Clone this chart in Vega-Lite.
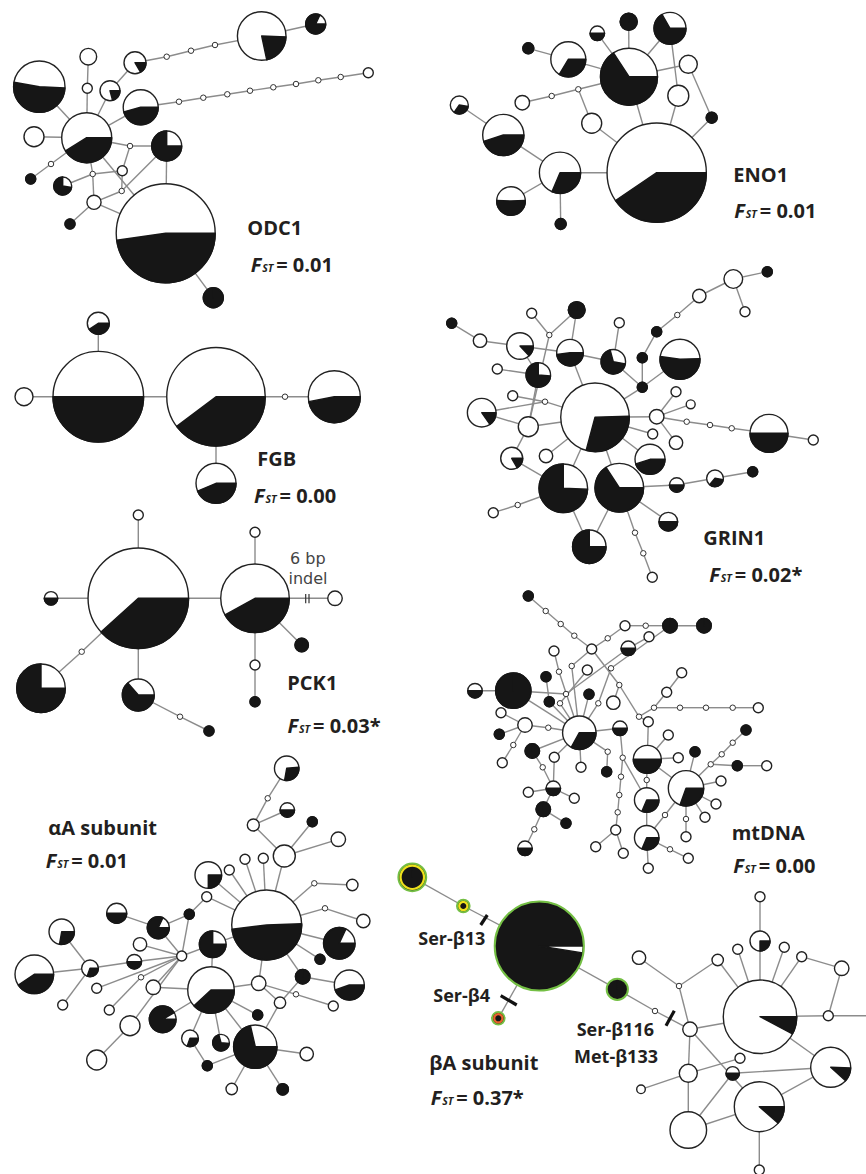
{
"$schema": "https://vega.github.io/schema/vega-lite/v6.json",
"width": 866, "height": 1174, "padding": 0, "autosize": {"type": "none"},
"background": "white",
"config": {"view": {"stroke": null}, "axis": {"disable": true}, "legend": {"disable": true}},
"datasets": {
"nodes": [
{"id":"oA","x":165.7,"y":233.3,"n":98,"a":90,"b":262},
{"id":"oB","x":86.7,"y":137.7,"n":25,"a":90,"b":238},
{"id":"oC","x":39.3,"y":86.7,"n":26.4,"a":93,"b":280},
{"id":"oD","x":88.3,"y":56.7,"n":2.8},
{"id":"oE","x":87.3,"y":88.3,"n":1},
{"id":"oF","x":110,"y":90.7,"n":4,"a":90,"b":165},
{"id":"oG","x":135,"y":62.7,"n":4.84,"a":90,"b":150},
{"id":"oG1","x":166.7,"y":56.7},{"id":"oG2","x":191,"y":50.7},{"id":"oG3","x":215,"y":45},
{"id":"oH","x":261.7,"y":36,"n":23.6,"a":92,"b":168},
{"id":"oI","x":315.7,"y":24,"n":4,"a":90,"b":385},
{"id":"oJ","x":140.7,"y":107.3,"n":12.25,"a":90,"b":255},
{"id":"oJ1","x":179,"y":101.7},{"id":"oJ2","x":203.3,"y":97.7},{"id":"oJ3","x":227.3,"y":94.3},{"id":"oJ4","x":250,"y":90.7},
{"id":"oJ5","x":273.3,"y":87.3},{"id":"oJ6","x":296,"y":84},{"id":"oJ7","x":318.3,"y":80.3},{"id":"oJ8","x":340.7,"y":77},
{"id":"oJe","x":368.3,"y":72.7,"n":1},
{"id":"oK","x":34,"y":136.7,"n":4},
{"id":"oL","x":166.7,"y":146,"n":9,"a":90,"b":360},
{"id":"oM","x":130,"y":146},
{"id":"oN","x":122.3,"y":170.7,"n":1},
{"id":"oO","x":92.7,"y":174},
{"id":"oP","x":62.7,"y":186,"n":3.24,"a":100,"b":360},
{"id":"oQ","x":51,"y":164},
{"id":"oR","x":30.7,"y":179,"n":1,"a":0,"b":360},
{"id":"oS","x":94,"y":202.3,"n":2},
{"id":"oT","x":121.7,"y":191},
{"id":"oU","x":70,"y":224,"n":1,"a":0,"b":360},
{"id":"oV","x":213.3,"y":297.7,"n":4,"a":0,"b":360},

{"id":"eA","x":656.7,"y":172.7,"n":98.6,"a":90,"b":236},
{"id":"e2","x":629,"y":76.7,"n":32.5,"a":90,"b":327},
{"id":"e3","x":670,"y":28.3,"n":10.2,"a":90,"b":330},
{"id":"e4","x":628.7,"y":21.7,"n":2.9,"a":0,"b":360},
{"id":"e5","x":597.3,"y":33.3,"n":2.1,"a":90,"b":270},
{"id":"e6","x":568.3,"y":59.3,"n":12.25,"a":90,"b":211},
{"id":"e7","x":528.3,"y":48.3,"n":1.2,"a":0,"b":360},
{"id":"e8","x":688.3,"y":64.3,"n":3.24},
{"id":"e9","x":678.3,"y":95.7,"n":4.4},
{"id":"e10","x":711.7,"y":117.7,"n":1.2,"a":0,"b":360},
{"id":"e11","x":591.7,"y":123.3,"n":4},
{"id":"e12","x":578.3,"y":89.3},{"id":"e13","x":551.7,"y":96},
{"id":"e14","x":522.3,"y":102.7,"n":2.1},
{"id":"e15","x":503.3,"y":135,"n":17,"a":90,"b":252},
{"id":"e16","x":459.3,"y":105,"n":3.24,"a":100,"b":215},
{"id":"e17","x":560,"y":172.7,"n":17,"a":90,"b":203},
{"id":"e18","x":511,"y":201,"n":8.2,"a":88,"b":272},
{"id":"e19","x":560.7,"y":224,"n":1.2,"a":0,"b":360},

{"id":"f1","x":98.3,"y":396.7,"n":82,"a":90,"b":270},
{"id":"f2","x":216,"y":396.7,"n":97,"a":90,"b":233},
{"id":"f3","x":334.3,"y":396.7,"n":27,"a":90,"b":259},
{"id":"f4","x":24,"y":396.7,"n":3.24},
{"id":"f5","x":98.3,"y":323.3,"n":4.84,"a":90,"b":236},
{"id":"f6","x":285,"y":396.7},
{"id":"f7","x":216,"y":483.3,"n":16,"a":90,"b":247},

{"id":"g1","x":595,"y":417.3,"n":47,"a":88,"b":195},
{"id":"g2","x":563.3,"y":488.3,"n":23.6,"a":92,"b":360},
{"id":"g3","x":619.3,"y":487.7,"n":23.6,"a":90,"b":327},
{"id":"g4","x":589.3,"y":546.7,"n":11.2,"a":90,"b":360},
{"id":"g5","x":650,"y":459.3,"n":9,"a":90,"b":252},
{"id":"g6","x":680,"y":359.3,"n":16,"a":88,"b":278},
{"id":"g7","x":769,"y":433.3,"n":14.4,"a":90,"b":270},
{"id":"g8","x":613.3,"y":361.7,"n":6,"a":100,"b":345},
{"id":"g9","x":570,"y":352.7,"n":7.1,"a":90,"b":262},
{"id":"g10","x":520,"y":346,"n":7.1,"a":90,"b":137},
{"id":"g11","x":538.3,"y":375,"n":6,"a":95,"b":360},
{"id":"g12","x":481.7,"y":412.7,"n":8.2,"a":90,"b":145},
{"id":"g13","x":511.7,"y":458.3,"n":4.84,"a":90,"b":150},
{"id":"g14","x":528.3,"y":426.7,"n":4},
{"id":"g15","x":576.7,"y":310,"n":2.8,"a":0,"b":360},
{"id":"g16","x":451.7,"y":323.3,"n":1,"a":0,"b":360},
{"id":"g17","x":480,"y":340.7,"n":1.8},
{"id":"g18","x":531.7,"y":313.3,"n":1},
{"id":"g19","x":549.3,"y":335},
{"id":"g20","x":497.3,"y":369,"n":1},
{"id":"g21","x":512.7,"y":395.7,"n":1},
{"id":"g22","x":545,"y":401.7},
{"id":"g23","x":546,"y":456,"n":1.8},
{"id":"g24","x":619.3,"y":322.7,"n":1},
{"id":"g25","x":642.3,"y":357.7,"n":1,"a":0,"b":360},
{"id":"g26","x":656.7,"y":331.7,"n":1,"a":0,"b":360},
{"id":"g27","x":677.3,"y":315},
{"id":"g28","x":699.3,"y":296,"n":1.8},
{"id":"g29","x":733.3,"y":279,"n":3.5},
{"id":"g30","x":767.3,"y":271.7,"n":1,"a":0,"b":360},
{"id":"g31","x":745,"y":311.7,"n":1},
{"id":"g32","x":642.3,"y":387.3,"n":1,"a":0,"b":360},
{"id":"g33","x":676,"y":391.7,"n":1},
{"id":"g34","x":690.7,"y":404.3,"n":0.8},
{"id":"g35","x":656.7,"y":416.7,"n":2.1},
{"id":"g36","x":686.7,"y":421.7},{"id":"g37","x":710,"y":425},{"id":"g38","x":731.7,"y":428.3},
{"id":"g39","x":813.3,"y":440,"n":1},
{"id":"g40","x":652.7,"y":434,"n":1},
{"id":"g41","x":676,"y":442.7,"n":1.8},
{"id":"g42","x":676.7,"y":485,"n":2.1,"a":90,"b":270},
{"id":"g43","x":715,"y":478.3,"n":2.8,"a":100,"b":220},
{"id":"g44","x":752.7,"y":471.7,"n":1,"a":0,"b":360},
{"id":"g45","x":668.3,"y":521.7,"n":3.5,"a":90,"b":270},
{"id":"g46","x":635,"y":532.7},{"id":"g47","x":643.3,"y":553.3},
{"id":"g48","x":652.3,"y":577.3,"n":1},
{"id":"g49","x":517.7,"y":505},
{"id":"g50","x":493.3,"y":512.7,"n":1},

{"id":"p1","x":138.3,"y":598.3,"n":101,"a":90,"b":228},
{"id":"p2","x":255,"y":598.3,"n":47,"a":90,"b":241},
{"id":"p3","x":138.3,"y":515,"n":1},
{"id":"p4","x":51,"y":598.3,"n":1.8,"a":90,"b":270},
{"id":"p5","x":81.7,"y":651.7},
{"id":"p6","x":41,"y":688.3,"n":23.6,"a":90,"b":360},
{"id":"p7","x":138.3,"y":695,"n":10.2,"a":90,"b":319},
{"id":"p8","x":180,"y":716.7},
{"id":"p9","x":209,"y":731,"n":1,"a":0,"b":360},
{"id":"p10","x":255,"y":532.3,"n":1},
{"id":"p11","x":335,"y":598.3,"n":2.1},
{"id":"p12","x":301.7,"y":645,"n":1.8,"a":0,"b":360},
{"id":"p13","x":255,"y":665,"n":1},
{"id":"p14","x":255,"y":701.7,"n":1,"a":0,"b":360},

{"id":"m1","x":513.3,"y":690.7,"n":12.5,"a":0,"b":360},
{"id":"m2","x":475,"y":690.7,"n":2.1,"a":90,"b":270},
{"id":"m3","x":579.3,"y":732.7,"n":11.2,"a":90,"b":209},
{"id":"m4","x":647.3,"y":759.3,"n":7.8,"a":90,"b":270},
{"id":"m5","x":686,"y":788.3,"n":12.5,"a":90,"b":200},
{"id":"m6","x":646.7,"y":800,"n":6,"a":90,"b":203},
{"id":"m7","x":646.7,"y":837.7,"n":6,"a":90,"b":203},
{"id":"m8","x":620,"y":728.3,"n":2.1,"a":90,"b":270},
{"id":"m9","x":628.3,"y":648.3,"n":2.1,"a":90,"b":270},
{"id":"m10","x":553.3,"y":788.3,"n":2.1,"a":90,"b":270},
{"id":"m11","x":525,"y":848.3,"n":2.1,"a":90,"b":270},
{"id":"m12","x":543.3,"y":809.3,"n":2.1,"a":0,"b":360},
{"id":"m13","x":566,"y":823.3,"n":1,"a":0,"b":360},
{"id":"m14","x":532.3,"y":751,"n":2.1,"a":0,"b":360},
{"id":"m15","x":499.3,"y":734.3,"n":1,"a":0,"b":360},
{"id":"m16","x":525,"y":725,"n":2.1},
{"id":"m17","x":501,"y":712.7,"n":1},
{"id":"m18","x":502.3,"y":762.7,"n":1},
{"id":"m19","x":513.3,"y":745},
{"id":"m20","x":528.3,"y":596,"n":1,"a":0,"b":360},
{"id":"m21a","x":545.7,"y":611},{"id":"m21b","x":560.7,"y":624},{"id":"m21c","x":574.3,"y":635.7},
{"id":"m22","x":591.7,"y":649,"n":1},
{"id":"m23","x":607.7,"y":638.3},
{"id":"m24","x":625,"y":625.7,"n":1},
{"id":"m25","x":645.7,"y":625.7},
{"id":"m26","x":670,"y":625.7,"n":2.1,"a":0,"b":360},
{"id":"m27","x":704,"y":625.7,"n":2.1,"a":0,"b":360},
{"id":"m28","x":649,"y":636.7,"n":1},
{"id":"m29","x":554,"y":651,"n":1},
{"id":"m30","x":559,"y":671.7},
{"id":"m31","x":546,"y":676.7,"n":1,"a":0,"b":360},
{"id":"m32","x":549.3,"y":701.7,"n":1,"a":0,"b":360},
{"id":"m33","x":571.7,"y":666},
{"id":"m34","x":566,"y":694},
{"id":"m35","x":560,"y":703.3},
{"id":"m36","x":587.3,"y":670,"n":1},
{"id":"m37","x":589,"y":694.3,"n":1,"a":0,"b":360},
{"id":"m38","x":598.3,"y":703.3},
{"id":"m39","x":611,"y":668.3},
{"id":"m40","x":619.3,"y":685},
{"id":"m41","x":613.3,"y":702.7,"n":1.8},
{"id":"m42","x":639,"y":716.7},
{"id":"m43","x":648.3,"y":721.7,"n":1},
{"id":"m44a","x":654,"y":707.7},{"id":"m44b","x":680,"y":707.7},{"id":"m44c","x":706,"y":707.7},{"id":"m44d","x":732.7,"y":707.7},
{"id":"m44e","x":758.3,"y":707.7,"n":1},
{"id":"m46","x":666.7,"y":692.3,"n":1},
{"id":"m47","x":681.7,"y":672.7,"n":1},
{"id":"m48","x":607.7,"y":751.7},
{"id":"m49","x":606.7,"y":771.7,"n":1,"a":0,"b":360},
{"id":"m50","x":622.7,"y":757.7},
{"id":"m51a","x":621,"y":776.7},{"id":"m51b","x":619.3,"y":795},{"id":"m51c","x":617.7,"y":812.3},
{"id":"m52","x":615.7,"y":830,"n":1},
{"id":"m53","x":595.7,"y":846.7,"n":1},
{"id":"m54","x":623.3,"y":853.3,"n":1},
{"id":"m55","x":668.3,"y":735,"n":1},
{"id":"m56","x":678.3,"y":757.7,"n":1},
{"id":"m57","x":695,"y":751.7,"n":1,"a":0,"b":360},
{"id":"m58","x":646.7,"y":780},
{"id":"m59","x":721,"y":781,"n":1},
{"id":"m60","x":716,"y":804,"n":1},
{"id":"m61","x":705,"y":817.3,"n":1},
{"id":"m62","x":686,"y":819},
{"id":"m63","x":686,"y":836.7,"n":1},
{"id":"m64a","x":710.7,"y":764.3},{"id":"m64b","x":721.7,"y":754.3},{"id":"m64c","x":732.7,"y":742.7},
{"id":"m65","x":746,"y":730,"n":1,"a":0,"b":360},
{"id":"m66","x":737.3,"y":765.7,"n":1,"a":0,"b":360},
{"id":"m67","x":766.7,"y":765.7,"n":1},
{"id":"m68","x":665,"y":815},
{"id":"m69","x":670,"y":849.3},
{"id":"m70","x":688.3,"y":858.3,"n":1},
{"id":"m71","x":648.3,"y":868.3,"n":1},
{"id":"m74","x":528.3,"y":792.3,"n":1},
{"id":"m75","x":574.3,"y":798.3,"n":1},
{"id":"m76","x":542.7,"y":767.3},
{"id":"m77","x":534.3,"y":829.3},
{"id":"m78","x":554.3,"y":757.3,"n":1},
{"id":"m79","x":581,"y":767.3,"n":1},
{"id":"m80","x":548.3,"y":727.7},

{"id":"a1","x":266.7,"y":925,"n":49,"a":88,"b":263},
{"id":"a2","x":286.7,"y":768.3,"n":6,"a":85,"b":190},
{"id":"a3","x":267.7,"y":798.3},
{"id":"a4","x":253.3,"y":825,"n":1.44},
{"id":"a5","x":287.3,"y":810,"n":2.1,"a":90,"b":270},
{"id":"a6","x":312.3,"y":821.7,"n":1,"a":0,"b":360},
{"id":"a7","x":284.3,"y":856,"n":4.84},
{"id":"a8","x":338.3,"y":839.3,"n":2.1},
{"id":"a9","x":245,"y":859.3,"n":1},
{"id":"a10","x":263.3,"y":858.3,"n":1},
{"id":"a11","x":229.3,"y":870,"n":1},
{"id":"a12","x":208.3,"y":875,"n":7.1,"a":90,"b":180},
{"id":"a13","x":314.3,"y":883.3},
{"id":"a14","x":352.3,"y":885,"n":1.3},
{"id":"a15","x":325,"y":908.3},
{"id":"a16","x":363.3,"y":921,"n":1.8},
{"id":"a17","x":206.7,"y":896.7,"n":1},
{"id":"a18","x":189.3,"y":914.3,"n":1,"a":0,"b":360},
{"id":"a19","x":339.3,"y":943.3,"n":9.9,"a":90,"b":385},
{"id":"a20","x":320,"y":959.3,"n":1,"a":0,"b":360},
{"id":"a21","x":349.3,"y":985,"n":9,"a":90,"b":251},
{"id":"a22","x":302.7,"y":976.7,"n":2.1,"a":0,"b":360},
{"id":"a23","x":296,"y":994.3},
{"id":"a24","x":333.3,"y":1006,"n":1},
{"id":"a25","x":280,"y":1002.7,"n":1.3},
{"id":"a26","x":258.7,"y":983.3,"n":2.1},
{"id":"a27","x":211,"y":990,"n":21.7,"a":90,"b":227},
{"id":"a28","x":212.7,"y":944.3,"n":7.1,"a":90,"b":360},
{"id":"a29","x":255.3,"y":1046.7,"n":18.8,"a":90,"b":347},
{"id":"a30","x":257.7,"y":1015,"n":1,"a":0,"b":360},
{"id":"a31","x":221,"y":1042.7,"n":2.8,"a":95,"b":345},
{"id":"a32","x":190,"y":1038.3,"n":2.8,"a":90,"b":200},
{"id":"a33","x":207.3,"y":1065.7,"n":1,"a":0,"b":360},
{"id":"a34","x":231.7,"y":1089,"n":1.3},
{"id":"a35","x":282.7,"y":1089.3,"n":1.3,"a":0,"b":360},
{"id":"a36","x":306.7,"y":1054,"n":1.8},
{"id":"a37","x":162.7,"y":1019.3,"n":7.1,"a":90,"b":420},
{"id":"a38","x":153.3,"y":987.3,"n":2.1},
{"id":"a39","x":130,"y":1025.7,"n":4},
{"id":"a40","x":96.7,"y":1060,"n":4},
{"id":"a41","x":141,"y":977.3},
{"id":"a42","x":109.3,"y":1010,"n":1},
{"id":"a43","x":96.7,"y":988.3,"n":1},
{"id":"a44","x":181.7,"y":956,"n":1},
{"id":"a45","x":134.3,"y":961.7,"n":2.1,"a":90,"b":270},
{"id":"a46","x":140,"y":944.3,"n":1.8},
{"id":"a47","x":158.3,"y":927.7,"n":4.84,"a":90,"b":385},
{"id":"a48","x":116.7,"y":913.3,"n":4,"a":90,"b":270},
{"id":"a51","x":61.7,"y":931.7,"n":6.45,"a":90,"b":190},
{"id":"a52","x":90,"y":968.3,"n":2.8,"a":90,"b":200},
{"id":"a53","x":34.3,"y":974.3,"n":14.9,"a":90,"b":236},
{"id":"a54","x":62.7,"y":1005,"n":1},

{"id":"b1","x":539.3,"y":946,"n":77.4,"a":99,"b":450,"ring":"g"},
{"id":"b2","x":412.3,"y":877.3,"n":7.1,"a":0,"b":360,"ring":"y"},
{"id":"b3","x":463.3,"y":906,"n":1.3,"a":0,"b":360,"ring":"y"},
{"id":"b4","x":498.3,"y":1018.3,"n":1.3,"a":0,"b":360,"ring":"o"},
{"id":"b5","x":617.3,"y":989.3,"n":4,"a":0,"b":360,"ring":"g"},
{"id":"b6","x":655,"y":1011},
{"id":"c1","x":760,"y":1016.7,"n":54,"a":90,"b":118},
{"id":"c2","x":760,"y":941,"n":4,"a":90,"b":180},
{"id":"c3","x":760,"y":896.7,"n":1},
{"id":"c4","x":737.7,"y":949.3,"n":1},
{"id":"c5","x":784.3,"y":947.3,"n":1},
{"id":"c6","x":801.7,"y":956.7,"n":1},
{"id":"c7","x":841.7,"y":968.3,"n":2.1},
{"id":"c8","x":828.3,"y":1015.7,"n":1},
{"id":"c9","x":872,"y":1015.7,"n":1},
{"id":"c10","x":830.7,"y":1067.3,"n":16,"a":92,"b":132},
{"id":"c11","x":759.3,"y":1106.7,"n":25,"a":90,"b":131},
{"id":"c12","x":688.3,"y":1130,"n":13.4},
{"id":"c13","x":688.3,"y":1073.3,"n":3.24},
{"id":"c14","x":690,"y":1029.3,"n":2.1},
{"id":"c15","x":732.7,"y":1073.3,"n":1.8,"a":90,"b":270},
{"id":"c16","x":740,"y":1058.3,"n":1},
{"id":"c17","x":641,"y":1089.3,"n":0.74},
{"id":"c18","x":759.3,"y":1170,"n":1},
{"id":"c19","x":639,"y":957.7,"n":1.8},
{"id":"c20","x":679,"y":986},
{"id":"c21","x":717.7,"y":960,"n":1.3}
],
"links": [
{"s":"oC","t":"oB"},{"s":"oD","t":"oE"},{"s":"oE","t":"oB"},{"s":"oF","t":"oB"},{"s":"oF","t":"oG"},{"s":"oG","t":"oG1"},{"s":"oG1","t":"oG2"},{"s":"oG2","t":"oG3"},{"s":"oG3","t":"oH"},{"s":"oH","t":"oI"},
{"s":"oJ","t":"oB"},{"s":"oJ","t":"oJ1"},{"s":"oJ1","t":"oJ2"},{"s":"oJ2","t":"oJ3"},{"s":"oJ3","t":"oJ4"},{"s":"oJ4","t":"oJ5"},{"s":"oJ5","t":"oJ6"},{"s":"oJ6","t":"oJ7"},{"s":"oJ7","t":"oJ8"},{"s":"oJ8","t":"oJe"},
{"s":"oK","t":"oB"},{"s":"oB","t":"oM"},{"s":"oM","t":"oL"},{"s":"oM","t":"oN"},{"s":"oN","t":"oT"},{"s":"oO","t":"oN"},{"s":"oO","t":"oP"},{"s":"oO","t":"oB"},{"s":"oO","t":"oS"},{"s":"oS","t":"oT"},{"s":"oS","t":"oA"},{"s":"oS","t":"oU"},{"s":"oL","t":"oA"},{"s":"oB","t":"oA"},{"s":"oQ","t":"oB"},{"s":"oQ","t":"oR"},{"s":"oL","t":"oT"},{"s":"oA","t":"oV"},

{"s":"e7","t":"e6"},{"s":"e6","t":"e2"},{"s":"e5","t":"e2"},{"s":"e4","t":"e2"},{"s":"e3","t":"e2"},{"s":"e2","t":"e8"},{"s":"e3","t":"e9"},{"s":"e9","t":"eA"},{"s":"e2","t":"eA"},{"s":"e8","t":"e10"},{"s":"e10","t":"eA"},{"s":"e14","t":"e13"},{"s":"e13","t":"e12"},{"s":"e12","t":"e2"},{"s":"e12","t":"e11"},{"s":"e11","t":"eA"},{"s":"e16","t":"e15"},{"s":"e15","t":"e17"},{"s":"e17","t":"eA"},{"s":"e17","t":"e18"},{"s":"e17","t":"e19"},

{"s":"f4","t":"f1"},{"s":"f1","t":"f5"},{"s":"f1","t":"f2"},{"s":"f2","t":"f6"},{"s":"f6","t":"f3"},{"s":"f2","t":"f7"},

{"s":"g16","t":"g17"},{"s":"g17","t":"g10"},{"s":"g10","t":"g11"},{"s":"g10","t":"g9"},{"s":"g18","t":"g19"},{"s":"g19","t":"g15"},{"s":"g15","t":"g9"},{"s":"g19","t":"g14"},{"s":"g9","t":"g8"},{"s":"g9","t":"g1"},{"s":"g8","t":"g24"},{"s":"g8","t":"g32"},{"s":"g26","t":"g25"},{"s":"g25","t":"g32"},{"s":"g26","t":"g27"},{"s":"g27","t":"g28"},{"s":"g28","t":"g29"},{"s":"g29","t":"g30"},{"s":"g29","t":"g31"},{"s":"g32","t":"g6"},{"s":"g32","t":"g1"},
{"s":"g33","t":"g35"},{"s":"g35","t":"g34"},{"s":"g35","t":"g1"},{"s":"g35","t":"g41"},{"s":"g1","t":"g40"},{"s":"g35","t":"g36"},{"s":"g36","t":"g37"},{"s":"g37","t":"g38"},{"s":"g38","t":"g7"},{"s":"g7","t":"g39"},
{"s":"g11","t":"g20"},{"s":"g11","t":"g14"},{"s":"g12","t":"g22"},{"s":"g21","t":"g22"},{"s":"g22","t":"g1"},{"s":"g12","t":"g14"},{"s":"g14","t":"g1"},{"s":"g14","t":"g13"},{"s":"g13","t":"g2"},{"s":"g23","t":"g1"},{"s":"g1","t":"g2"},{"s":"g1","t":"g3"},{"s":"g1","t":"g5"},{"s":"g3","t":"g42"},{"s":"g42","t":"g43"},{"s":"g43","t":"g44"},{"s":"g3","t":"g45"},{"s":"g3","t":"g46"},{"s":"g46","t":"g47"},{"s":"g47","t":"g48"},{"s":"g2","t":"g4"},{"s":"g3","t":"g4"},{"s":"g2","t":"g49"},{"s":"g49","t":"g50"},

{"s":"p3","t":"p1"},{"s":"p4","t":"p1"},{"s":"p1","t":"p2"},{"s":"p1","t":"p5"},{"s":"p5","t":"p6"},{"s":"p1","t":"p7"},{"s":"p7","t":"p8"},{"s":"p8","t":"p9"},{"s":"p2","t":"p10"},{"s":"p2","t":"p11"},{"s":"p2","t":"p12"},{"s":"p2","t":"p13"},{"s":"p13","t":"p14"},

{"s":"m2","t":"m1"},{"s":"m1","t":"m3"},{"s":"m1","t":"m34"},{"s":"m34","t":"m9"},{"s":"m31","t":"m32"},{"s":"m32","t":"m3"},{"s":"m20","t":"m21a"},{"s":"m21a","t":"m21b"},{"s":"m21b","t":"m21c"},{"s":"m21c","t":"m22"},{"s":"m22","t":"m23"},{"s":"m23","t":"m24"},{"s":"m24","t":"m25"},{"s":"m25","t":"m26"},{"s":"m26","t":"m27"},
{"s":"m22","t":"m33"},{"s":"m33","t":"m3"},{"s":"m29","t":"m30"},{"s":"m30","t":"m3"},{"s":"m36","t":"m35"},{"s":"m35","t":"m3"},{"s":"m37","t":"m3"},{"s":"m3","t":"m38"},{"s":"m38","t":"m39"},{"s":"m39","t":"m26"},{"s":"m9","t":"m28"},{"s":"m22","t":"m40"},{"s":"m40","t":"m42"},{"s":"m42","t":"m43"},{"s":"m41","t":"m40"},
{"s":"m42","t":"m44a"},{"s":"m44a","t":"m44b"},{"s":"m44b","t":"m44c"},{"s":"m44c","t":"m44d"},{"s":"m44d","t":"m44e"},{"s":"m44a","t":"m46"},{"s":"m46","t":"m47"},
{"s":"m3","t":"m8"},{"s":"m8","t":"m50"},{"s":"m50","t":"m6"},{"s":"m50","t":"m51a"},{"s":"m51a","t":"m51b"},{"s":"m51b","t":"m51c"},{"s":"m51c","t":"m52"},{"s":"m52","t":"m53"},{"s":"m52","t":"m54"},{"s":"m3","t":"m48"},{"s":"m48","t":"m49"},
{"s":"m3","t":"m14"},{"s":"m14","t":"m76"},{"s":"m76","t":"m10"},{"s":"m10","t":"m74"},{"s":"m10","t":"m75"},{"s":"m10","t":"m12"},{"s":"m12","t":"m13"},{"s":"m12","t":"m77"},{"s":"m77","t":"m11"},
{"s":"m16","t":"m17"},{"s":"m16","t":"m15"},{"s":"m16","t":"m19"},{"s":"m19","t":"m18"},{"s":"m16","t":"m80"},{"s":"m80","t":"m3"},{"s":"m3","t":"m78"},{"s":"m78","t":"m10"},{"s":"m3","t":"m79"},
{"s":"m43","t":"m4"},{"s":"m4","t":"m58"},{"s":"m58","t":"m6"},{"s":"m6","t":"m7"},{"s":"m7","t":"m71"},{"s":"m7","t":"m69"},{"s":"m69","t":"m70"},{"s":"m4","t":"m55"},{"s":"m4","t":"m56"},{"s":"m4","t":"m5"},{"s":"m5","t":"m57"},
{"s":"m5","t":"m64a"},{"s":"m64a","t":"m64b"},{"s":"m64b","t":"m64c"},{"s":"m64c","t":"m65"},{"s":"m64a","t":"m66"},{"s":"m66","t":"m67"},{"s":"m5","t":"m59"},{"s":"m5","t":"m60"},{"s":"m5","t":"m61"},{"s":"m5","t":"m62"},{"s":"m62","t":"m63"},{"s":"m7","t":"m68"},{"s":"m68","t":"m5"},

{"s":"a2","t":"a3"},{"s":"a3","t":"a4"},{"s":"a4","t":"a5"},{"s":"a4","t":"a7"},{"s":"a6","t":"a7"},{"s":"a7","t":"a1"},{"s":"a7","t":"a8"},{"s":"a9","t":"a1"},{"s":"a10","t":"a1"},{"s":"a11","t":"a1"},{"s":"a12","t":"a1"},{"s":"a17","t":"a1"},{"s":"a13","t":"a1"},{"s":"a13","t":"a14"},{"s":"a15","t":"a1"},{"s":"a15","t":"a16"},
{"s":"a1","t":"a19"},{"s":"a1","t":"a20"},{"s":"a1","t":"a22"},{"s":"a22","t":"a21"},{"s":"a22","t":"a25"},{"s":"a26","t":"a23"},{"s":"a23","t":"a24"},{"s":"a26","t":"a25"},{"s":"a1","t":"a26"},{"s":"a26","t":"a27"},{"s":"a28","t":"a1"},{"s":"a28","t":"a44"},{"s":"a28","t":"a27"},{"s":"a18","t":"a44"},{"s":"a18","t":"a17"},
{"s":"a27","t":"a29"},{"s":"a27","t":"a30"},{"s":"a27","t":"a31"},{"s":"a27","t":"a32"},{"s":"a27","t":"a37"},{"s":"a29","t":"a33"},{"s":"a32","t":"a33"},{"s":"a29","t":"a34"},{"s":"a29","t":"a35"},{"s":"a29","t":"a36"},{"s":"a29","t":"a25"},
{"s":"a44","t":"a47"},{"s":"a44","t":"a46"},{"s":"a44","t":"a45"},{"s":"a45","t":"a52"},{"s":"a44","t":"a38"},{"s":"a38","t":"a27"},{"s":"a42","t":"a41"},{"s":"a41","t":"a44"},{"s":"a43","t":"a44"},{"s":"a39","t":"a44"},{"s":"a40","t":"a39"},{"s":"a48","t":"a47"},{"s":"a47","t":"a18"},{"s":"a51","t":"a52"},{"s":"a53","t":"a52"},{"s":"a52","t":"a54"},

{"s":"b2","t":"b3"},{"s":"b3","t":"b1"},{"s":"b1","t":"b4"},{"s":"b1","t":"b5"},{"s":"b5","t":"b6"},{"s":"b6","t":"c14"},{"s":"c14","t":"c1"},{"s":"c14","t":"c13"},{"s":"c14","t":"c20"},{"s":"c20","t":"c19"},{"s":"c20","t":"c21"},{"s":"c21","t":"c1"},{"s":"c4","t":"c1"},{"s":"c1","t":"c2"},{"s":"c2","t":"c3"},{"s":"c1","t":"c5"},{"s":"c1","t":"c6"},{"s":"c6","t":"c7"},{"s":"c7","t":"c8"},{"s":"c8","t":"c1"},{"s":"c8","t":"c9"},{"s":"c1","t":"c10"},{"s":"c13","t":"c16"},{"s":"c15","t":"c10"},{"s":"c14","t":"c11"},{"s":"c13","t":"c12"},{"s":"c13","t":"c17"},{"s":"c12","t":"c11"},{"s":"c12","t":"c15"},{"s":"c11","t":"c10"},{"s":"c11","t":"c18"}
],
"ticks": [
{"x":480.7,"y":925,"x2":487.3,"y2":915,"k":"mut"},
{"x":500.7,"y":995.7,"x2":516.7,"y2":1005,"k":"mut"},
{"x":666,"y":1025.7,"x2":674.3,"y2":1010.7,"k":"mut"},
{"x":305.7,"y":594,"x2":305.7,"y2":603.3,"k":"indel"},
{"x":309,"y":594,"x2":309,"y2":603.3,"k":"indel"}
],
"labels": [
{"x":247.3,"y":235,"t":"ODC1","k":"name"},
{"x":733.3,"y":181.7,"t":"ENO1","k":"name"},
{"x":257.3,"y":466,"t":"FGB","k":"name"},
{"x":703.3,"y":545,"t":"GRIN1","k":"name"},
{"x":287.3,"y":690,"t":"PCK1","k":"name"},
{"x":731.7,"y":840,"t":"mtDNA","k":"name"},
{"x":48.3,"y":835,"t":"αA subunit","k":"name"},
{"x":429.3,"y":1070,"t":"βA subunit","k":"name"},
{"x":418.3,"y":945,"t":"Ser-β13","k":"ser"},
{"x":433.3,"y":1002.3,"t":"Ser-β4","k":"ser"},
{"x":576.7,"y":1035.7,"t":"Ser-β116","k":"ser"},
{"x":574,"y":1063.3,"t":"Met-β133","k":"ser"},
{"x":290,"y":564,"t":"6 bp","k":"note"},
{"x":288.5,"y":583.5,"t":"indel","k":"note"}
],
"fst": [
{"x":250.7,"y":271.7,"v":"= 0.01"},
{"x":734.3,"y":218.3,"v":"= 0.01"},
{"x":254,"y":503.3,"v":"= 0.00"},
{"x":709.3,"y":581.7,"v":"= 0.02*"},
{"x":287.5,"y":733,"v":"= 0.03*"},
{"x":733.3,"y":873.3,"v":"= 0.00"},
{"x":45.7,"y":868.3,"v":"= 0.01"},
{"x":430.7,"y":1105,"v":"= 0.37*"}
]
},
"layer": [
{
"data": {"name": "links"},
"transform": [
{"lookup": "s", "from": {"data": {"name": "nodes"}, "key": "id", "fields": ["x", "y"]}, "as": ["sx", "sy"]},
{"lookup": "t", "from": {"data": {"name": "nodes"}, "key": "id", "fields": ["x", "y"]}, "as": ["tx", "ty"]}
],
"mark": {"type": "rule", "stroke": "#8c8c8c", "strokeWidth": 1.4},
"encoding": {
"x": {"field": "sx", "type": "quantitative", "scale": {"domain": [0, 866], "nice": false, "zero": false}},
"y": {"field": "sy", "type": "quantitative", "scale": {"domain": [0, 1174], "nice": false, "zero": false, "reverse": true}},
"x2": {"field": "tx"},
"y2": {"field": "ty"}
}
},
{
"data": {"name": "ticks"},
"transform": [{"filter": "datum.k == 'mut'"}],
"mark": {"type": "rule", "stroke": "#111", "strokeWidth": 3.2},
"encoding": {
"x": {"field": "x", "type": "quantitative"},
"y": {"field": "y", "type": "quantitative"},
"x2": {"field": "x2"},
"y2": {"field": "y2"}
}
},
{
"data": {"name": "ticks"},
"transform": [{"filter": "datum.k == 'indel'"}],
"mark": {"type": "rule", "stroke": "#333", "strokeWidth": 1.2},
"encoding": {
"x": {"field": "x", "type": "quantitative"},
"y": {"field": "y", "type": "quantitative"},
"x2": {"field": "x2"},
"y2": {"field": "y2"}
}
},
{
"data": {"name": "nodes"},
"transform": [{"filter": "!isValid(datum.n)"}],
"mark": {"type": "point", "shape": "circle", "filled": true, "fill": "white", "stroke": "#333", "strokeWidth": 1, "size": 30, "opacity": 1},
"encoding": {
"x": {"field": "x", "type": "quantitative"},
"y": {"field": "y", "type": "quantitative"}
}
},
{
"data": {"name": "nodes"},
"transform": [{"filter": "isValid(datum.n)"}],
"mark": {"type": "arc", "fill": "white", "stroke": "#222", "strokeWidth": 1.4, "theta": 0, "theta2": 6.2832},
"encoding": {
"x": {"field": "x", "type": "quantitative"},
"y": {"field": "y", "type": "quantitative"},
"radius": {"field": "n", "type": "quantitative", "stack": null, "scale": {"type": "sqrt", "domain": [0, 100], "range": [0, 50]}}
}
},
{
"data": {"name": "nodes"},
"transform": [{"filter": "isValid(datum.b) && isValid(datum.n)"}],
"mark": {"type": "arc", "fill": "#161616", "stroke": "#161616", "strokeWidth": 1.4, "strokeJoin": "round"},
"encoding": {
"x": {"field": "x", "type": "quantitative"},
"y": {"field": "y", "type": "quantitative"},
"radius": {"field": "n", "type": "quantitative", "stack": null},
"theta": {"field": "a", "type": "quantitative", "stack": null, "scale": {"domain": [0, 360], "range": [0, 6.283185307]}},
"theta2": {"field": "b"}
}
},
{
"data": {"name": "nodes"},
"transform": [{"filter": "isValid(datum.ring)"}],
"mark": {"type": "arc", "fill": "transparent", "stroke": "#74bf44", "strokeWidth": 2, "theta": 0, "theta2": 6.2832, "radiusOffset": 0.6},
"encoding": {
"x": {"field": "x", "type": "quantitative"},
"y": {"field": "y", "type": "quantitative"},
"radius": {"field": "n", "type": "quantitative", "stack": null}
}
},
{
"data": {"name": "nodes"},
"transform": [{"filter": "datum.ring == 'y' || datum.ring == 'o'"}],
"mark": {"type": "arc", "fill": "transparent", "strokeWidth": 2.2, "theta": 0, "theta2": 6.2832, "radiusOffset": -1.6},
"encoding": {
"x": {"field": "x", "type": "quantitative"},
"y": {"field": "y", "type": "quantitative"},
"radius": {"field": "n", "type": "quantitative", "stack": null},
"stroke": {"field": "ring", "type": "nominal", "scale": {"domain": ["y", "o"], "range": ["#eee21c", "#e8612c"]}, "legend": null}
}
},
{
"data": {"name": "labels"},
"transform": [{"filter": "datum.k == 'name'"}],
"mark": {"type": "text", "font": "Open Sans", "fontWeight": "bold", "fontSize": 20, "align": "left", "baseline": "alphabetic", "fill": "#231f20"},
"encoding": {
"x": {"field": "x", "type": "quantitative"},
"y": {"field": "y", "type": "quantitative"},
"text": {"field": "t", "type": "nominal"}
}
},
{
"data": {"name": "labels"},
"transform": [{"filter": "datum.k == 'ser'"}],
"mark": {"type": "text", "font": "Open Sans", "fontWeight": "bold", "fontSize": 18, "align": "left", "baseline": "alphabetic", "fill": "#231f20"},
"encoding": {
"x": {"field": "x", "type": "quantitative"},
"y": {"field": "y", "type": "quantitative"},
"text": {"field": "t", "type": "nominal"}
}
},
{
"data": {"name": "labels"},
"transform": [{"filter": "datum.k == 'note'"}],
"mark": {"type": "text", "font": "DejaVu Sans", "fontWeight": "normal", "fontSize": 16, "align": "left", "baseline": "alphabetic", "fill": "#444"},
"encoding": {
"x": {"field": "x", "type": "quantitative"},
"y": {"field": "y", "type": "quantitative"},
"text": {"field": "t", "type": "nominal"}
}
},
{
"data": {"name": "fst"},
"mark": {"type": "text", "font": "Open Sans", "fontWeight": "bold", "fontStyle": "italic", "fontSize": 20, "align": "left", "baseline": "alphabetic", "fill": "#231f20"},
"encoding": {
"x": {"field": "x", "type": "quantitative"},
"y": {"field": "y", "type": "quantitative"},
"text": {"value": "F"}
}
},
{
"data": {"name": "fst"},
"mark": {"type": "text", "font": "Open Sans", "fontWeight": "bold", "fontStyle": "italic", "fontSize": 10.5, "dx": 11.5, "align": "left", "baseline": "alphabetic", "fill": "#231f20"},
"encoding": {
"x": {"field": "x", "type": "quantitative"},
"y": {"field": "y", "type": "quantitative"},
"text": {"value": "ST"}
}
},
{
"data": {"name": "fst"},
"mark": {"type": "text", "font": "Open Sans", "fontWeight": "bold", "fontSize": 20, "dx": 25.5, "align": "left", "baseline": "alphabetic", "fill": "#231f20"},
"encoding": {
"x": {"field": "x", "type": "quantitative"},
"y": {"field": "y", "type": "quantitative"},
"text": {"field": "v", "type": "nominal"}
}
}
]
}
